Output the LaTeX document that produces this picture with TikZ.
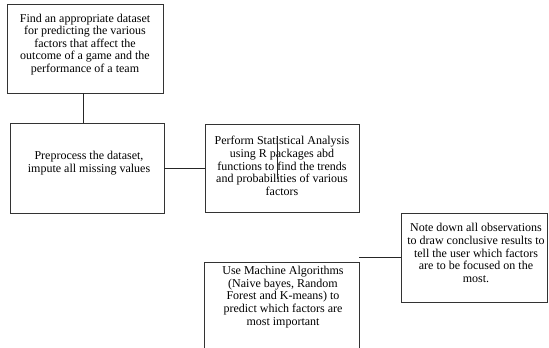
\documentclass[tikz,border=0pt]{standalone}
\usepackage{fontspec}
\setmainfont{Liberation Serif}
\begin{document}
\begin{tikzpicture}[x=1pt,y=-1pt,
  box/.style={draw=black!80,line width=0.8pt,rectangle,inner sep=0pt},
  txt/.style={align=center,inner sep=0pt,font=\fontsize{12}{12.6}\selectfont},
  conn/.style={draw=black!85,line width=0.8pt}]
\useasboundingbox (0,0) rectangle (549,348);
% boxes
\node[box,minimum width=156pt,minimum height=89pt] (b1) at (85,48.5) {};
\node[box,minimum width=154pt,minimum height=90pt] (b2) at (87,168) {};
\node[box,minimum width=154pt,minimum height=88pt] (b3) at (282,168) {};
\node[box,minimum width=155pt,minimum height=92pt] (b4) at (281.5,308) {};
\node[box,minimum width=146pt,minimum height=89pt] (b5) at (474,257.5) {};
% texts
\node[txt] (t1) at (85,44.5) {Find an appropriate dataset\\for predicting the various\\factors that affect the\\outcome of a game and the\\performance of a team};
\node[txt] (t2) at (89,163) {Preprocess the dataset,\\impute all missing values};
\node[txt] (t3) at (282,166) {Perform Statistical Analysis\\using R packages abd\\functions to find the trends\\and probabilities of various\\factors};
\node[txt] (t4) at (283,297) {Use Machine Algorithms\\(Naive bayes, Random\\Forest and K-means) to\\predict which factors are\\most important};
\node[txt] (t5) at (476,253) {Note down all observations\\to draw conclusive results to\\tell the user which factors\\are to be focused on the\\most.};
% connectors
\draw[conn] (b1.south -| 83,0) -- (b2.north -| 83,0);
\draw[conn] (b2.east) -- (b3.west);
\coordinate (v1) at (277,136);
\coordinate (v2) at (277,179);
\draw[conn] (v1) -- (v2);
\coordinate (h1) at (359,257.5);
\draw[conn] (h1) -- (b5.west);
\end{tikzpicture}
\end{document}
